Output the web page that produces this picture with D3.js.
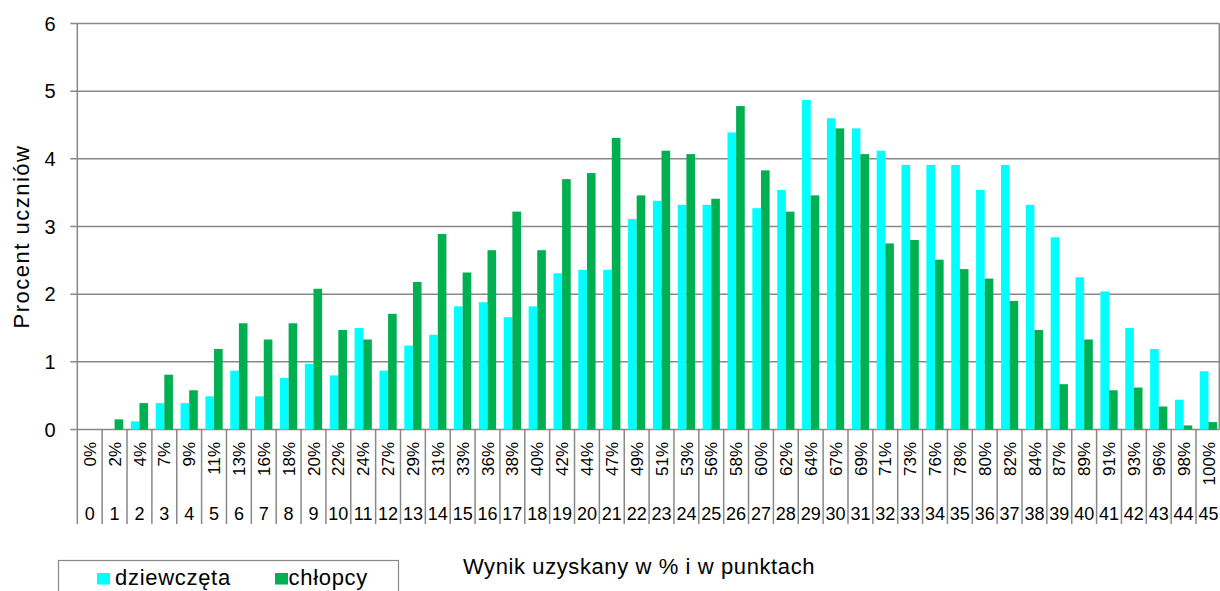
<!DOCTYPE html>
<html>
<head>
<meta charset="utf-8">
<script src="https://cdn.jsdelivr.net/npm/d3@7"></script>
<style>
  body { margin: 0; background: #fff; }
  svg { display: block; font-family: Arial, "Liberation Sans", sans-serif; }
</style>
</head>
<body>
<div id="chart"></div>
<script>
// punkty 0..45
const points = d3.range(0, 46).map(String);
const percentLabels = ['0%','2%','4%','7%','9%','11%','13%','16%','18%','20%','22%','24%','27%','29%','31%','33%','36%','38%','40%','42%','44%','47%','49%','51%','53%','56%','58%','60%','62%','64%','67%','69%','71%','73%','76%','78%','80%','82%','84%','87%','89%','91%','93%','96%','98%','100%'];
const girls = [0,0,0.12,0.39,0.39,0.49,0.87,0.49,0.76,0.97,0.80,1.50,0.87,1.24,1.40,1.82,1.88,1.66,1.82,2.31,2.36,2.36,3.11,3.38,3.32,3.32,4.39,3.27,3.54,4.87,4.60,4.45,4.12,3.91,3.91,3.91,3.54,3.91,3.32,2.84,2.25,2.04,1.50,1.19,0.44,0.86];
const boys = [0,0.15,0.39,0.81,0.58,1.19,1.57,1.33,1.57,2.08,1.47,1.33,1.71,2.18,2.89,2.32,2.65,3.22,2.65,3.70,3.79,4.31,3.46,4.12,4.07,3.41,4.78,3.83,3.22,3.46,4.45,4.07,2.75,2.80,2.51,2.37,2.23,1.90,1.47,0.67,1.33,0.58,0.62,0.34,0.06,0.11];
const seriesNames = ['dziewczęta', 'chłopcy'];
const yTicks = [0, 1, 2, 3, 4, 5, 6];

const width = 1220, height = 591;
const colors = { 'dziewczęta': '#00ffff', 'chłopcy': '#00b050' };
const gridColor = '#888888';

const svg = d3.select('#chart').append('svg')
  .attr('width', width)
  .attr('height', height);

const plotLeft = 77.3, plotRight = 1220.9, plotTop = 23.5, plotBottom = 429.5;
const borderX = 1219.3;

const x0 = d3.scaleBand().domain(points).range([plotLeft, plotRight]).padding(0);
const x1 = d3.scaleBand().domain(seriesNames).range([0, x0.bandwidth()])
  .paddingInner(0).paddingOuter(0.44);
const y = d3.scaleLinear().domain([0, 6]).range([plotBottom, plotTop]);

// gridlines
svg.append('g')
  .selectAll('line')
  .data(yTicks)
  .join('line')
  .attr('x1', plotLeft - 7).attr('x2', borderX)
  .attr('y1', d => y(d)).attr('y2', d => y(d))
  .attr('stroke', gridColor)
  .attr('stroke-width', 1.5);

// right border of plot area
svg.append('line')
  .attr('x1', borderX).attr('x2', borderX)
  .attr('y1', plotTop).attr('y2', plotBottom)
  .attr('stroke', gridColor).attr('stroke-width', 1.5);

// y tick labels
svg.append('g')
  .selectAll('text')
  .data(yTicks)
  .join('text')
  .attr('x', 55.5)
  .attr('y', d => y(d) + 7)
  .attr('text-anchor', 'end')
  .style('font-size', '20px')
  .style('fill', '#000')
  .text(d => d);

// bars
const rows = points.map((p, i) => ({ p, values: [
  { s: 'dziewczęta', v: girls[i] },
  { s: 'chłopcy', v: boys[i] }
]}));

svg.append('g')
  .selectAll('g')
  .data(rows)
  .join('g')
  .attr('transform', d => `translate(${x0(d.p)},0)`)
  .selectAll('rect')
  .data(d => d.values.filter(e => e.v > 0))
  .join('rect')
  .attr('x', d => x1(d.s))
  .attr('width', x1.bandwidth())
  .attr('y', d => y(d.v))
  .attr('height', d => y(0) - y(d.v))
  .attr('fill', d => colors[d.s]);

// category separators below the axis (first one is the y axis line)
const edges = points.map(p => x0(p));
svg.append('g')
  .selectAll('line')
  .data(edges)
  .join('line')
  .attr('x1', d => d).attr('x2', d => d)
  .attr('y1', (d, i) => i === 0 ? plotTop : plotBottom)
  .attr('y2', 524)
  .attr('stroke', gridColor)
  .attr('stroke-width', 1.5);

// percent labels (rotated)
svg.append('g')
  .selectAll('text')
  .data(points)
  .join('text')
  .attr('transform', d => `translate(${x0(d) + x0.bandwidth() / 2},442) rotate(-90)`)
  .attr('dy', '0.36em')
  .attr('text-anchor', 'end')
  .style('font-size', '17px')
  .text((d, i) => percentLabels[i]);

// point labels
svg.append('g')
  .selectAll('text')
  .data(points)
  .join('text')
  .attr('x', d => x0(d) + x0.bandwidth() / 2)
  .attr('y', 519.5)
  .attr('text-anchor', 'middle')
  .style('font-size', '18px')
  .text(d => d);

// axis titles
svg.append('text')
  .attr('transform', 'translate(28.5,236.5) rotate(-90)')
  .attr('text-anchor', 'middle')
  .style('font-size', '22px')
  .style('letter-spacing', '1.5px')
  .text('Procent uczniów');

svg.append('text')
  .attr('x', 639)
  .attr('y', 574)
  .attr('text-anchor', 'middle')
  .style('font-size', '22px')
  .style('letter-spacing', '0.6px')
  .text('Wynik uzyskany w % i w punktach');

// legend
const legend = svg.append('g');
legend.append('rect')
  .attr('x', 58.5).attr('y', 560.5)
  .attr('width', 340).attr('height', 40)
  .attr('fill', '#fff')
  .attr('stroke', gridColor)
  .attr('stroke-width', 1.2);

const legendItems = [
  { s: 'dziewczęta', x: 97, tx: 115 },
  { s: 'chłopcy', x: 275, tx: 288.5 }
];
legendItems.forEach(it => {
  legend.append('rect')
    .attr('x', it.x).attr('y', 573)
    .attr('width', 13).attr('height', 11.5)
    .attr('fill', colors[it.s]);
  legend.append('text')
    .attr('x', it.tx)
    .attr('y', 585)
    .style('font-size', '22px')
    .style('letter-spacing', '0.7px')
    .text(it.s);
});
</script>
</body>
</html>
